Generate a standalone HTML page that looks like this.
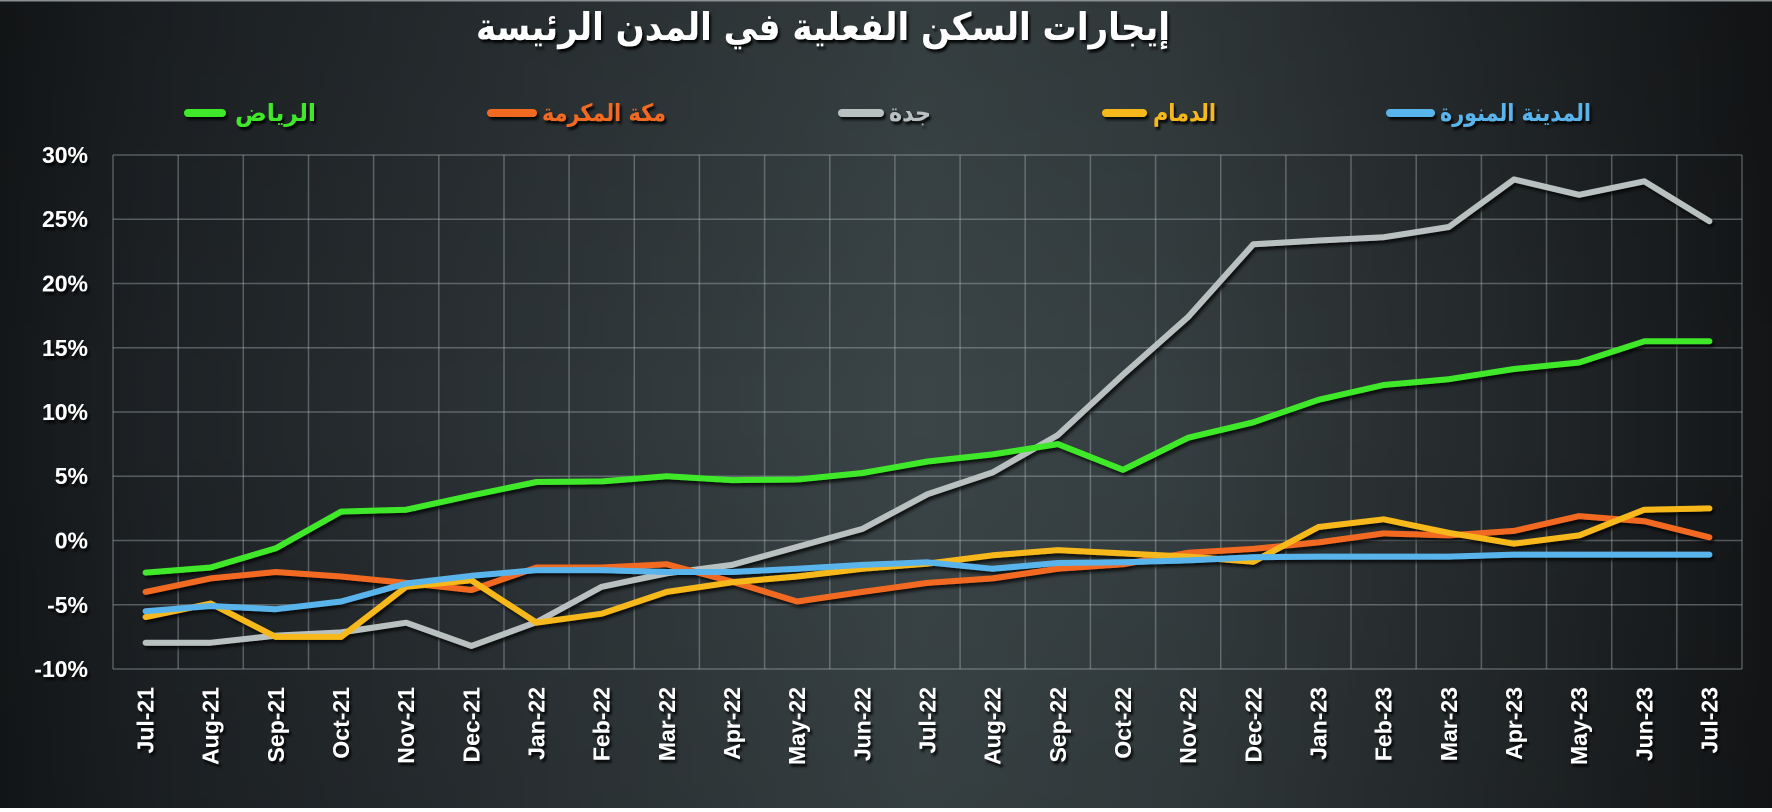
<!DOCTYPE html>
<html><head><meta charset="utf-8">
<style>
html,body{margin:0;padding:0;width:1772px;height:812px;overflow:hidden;background:#fff;}
svg{display:block;}
</style></head>
<body>
<svg width="1772" height="812" viewBox="0 0 1772 812" xmlns="http://www.w3.org/2000/svg">
<defs>
<linearGradient id="bg" x1="0" y1="0" x2="1" y2="0">
<stop offset="0" stop-color="#141719"/>
<stop offset="0.08" stop-color="#1d2124"/>
<stop offset="0.3" stop-color="#2c3336"/>
<stop offset="0.52" stop-color="#3b4547"/>
<stop offset="0.66" stop-color="#353e40"/>
<stop offset="0.84" stop-color="#24292b"/>
<stop offset="1" stop-color="#131517"/>
</linearGradient>
<linearGradient id="vg" x1="0" y1="0" x2="0" y2="1">
<stop offset="0" stop-color="#000" stop-opacity="0.12"/>
<stop offset="0.5" stop-color="#000" stop-opacity="0"/>
<stop offset="1" stop-color="#000" stop-opacity="0.1"/>
</linearGradient>
<filter id="sh" x="-5%" y="-5%" width="110%" height="120%">
<feDropShadow dx="2" dy="3" stdDeviation="1.6" flood-color="#000" flood-opacity="0.75"/>
</filter>
<filter id="lsh" filterUnits="userSpaceOnUse" x="0" y="90" width="1772" height="50">
<feDropShadow dx="2" dy="3" stdDeviation="1.4" flood-color="#000" flood-opacity="0.8"/>
</filter>
<filter id="tsh" x="-5%" y="-30%" width="110%" height="160%">
<feDropShadow dx="2" dy="3" stdDeviation="1.2" flood-color="#000" flood-opacity="0.9"/>
</filter>
</defs>
<rect x="0" y="0" width="1772" height="808" fill="url(#bg)"/>
<rect x="0" y="0" width="1772" height="808" fill="url(#vg)"/>
<rect x="0" y="0" width="1772" height="1.5" fill="#8a8f92"/>
<rect x="0" y="808" width="1772" height="4" fill="#ffffff"/>

<!-- Title -->
<text x="823" y="40" text-anchor="middle" direction="rtl" font-family="'DejaVu Sans', sans-serif" font-weight="bold" font-size="38" fill="#ffffff" filter="url(#tsh)" textLength="694" lengthAdjust="spacingAndGlyphs">إيجارات السكن الفعلية في المدن الرئيسة</text>

<!-- Legend -->
<g filter="url(#lsh)">
<rect x="184" y="109" width="42" height="8" rx="4" fill="#3fe82a"/>
<rect x="487" y="109" width="50" height="8" rx="4" fill="#f26a22"/>
<rect x="838" y="109" width="46" height="8" rx="4" fill="#b8c0c0"/>
<rect x="1102" y="109" width="45" height="8" rx="4" fill="#f7b81a"/>
<rect x="1386" y="109" width="49" height="8" rx="4" fill="#5ab4ec"/>
</g>
<g font-family="'DejaVu Sans', sans-serif" font-weight="bold" font-size="24" text-anchor="middle" direction="rtl" filter="url(#tsh)">
<text x="275.5" y="121" fill="#3fe82a" textLength="81" lengthAdjust="spacingAndGlyphs">الرياض</text>
<text x="604" y="121" fill="#f26a22" textLength="124" lengthAdjust="spacingAndGlyphs">مكة المكرمة</text>
<text x="910" y="121" fill="#b8c0c0" textLength="42" lengthAdjust="spacingAndGlyphs">جدة</text>
<text x="1184.5" y="121" fill="#f7b81a" textLength="63" lengthAdjust="spacingAndGlyphs">الدمام</text>
<text x="1515.5" y="121" fill="#5ab4ec" textLength="151" lengthAdjust="spacingAndGlyphs">المدينة المنورة</text>
</g>

<!-- Grid -->
<g stroke="#a9b3b4" stroke-opacity="0.42" stroke-width="1.5" fill="none">
<line x1="113" y1="155" x2="1742" y2="155"/>
<line x1="113" y1="219.25" x2="1742" y2="219.25"/>
<line x1="113" y1="283.5" x2="1742" y2="283.5"/>
<line x1="113" y1="347.75" x2="1742" y2="347.75"/>
<line x1="113" y1="412" x2="1742" y2="412"/>
<line x1="113" y1="476.25" x2="1742" y2="476.25"/>
<line x1="113" y1="540.5" x2="1742" y2="540.5"/>
<line x1="113" y1="604.75" x2="1742" y2="604.75"/>
<line x1="113" y1="669" x2="1742" y2="669"/>
<line x1="113" y1="155" x2="113" y2="669"/>
<line x1="178.2" y1="155" x2="178.2" y2="669"/>
<line x1="243.3" y1="155" x2="243.3" y2="669"/>
<line x1="308.5" y1="155" x2="308.5" y2="669"/>
<line x1="373.6" y1="155" x2="373.6" y2="669"/>
<line x1="438.8" y1="155" x2="438.8" y2="669"/>
<line x1="504" y1="155" x2="504" y2="669"/>
<line x1="569.1" y1="155" x2="569.1" y2="669"/>
<line x1="634.3" y1="155" x2="634.3" y2="669"/>
<line x1="699.4" y1="155" x2="699.4" y2="669"/>
<line x1="764.6" y1="155" x2="764.6" y2="669"/>
<line x1="829.8" y1="155" x2="829.8" y2="669"/>
<line x1="894.9" y1="155" x2="894.9" y2="669"/>
<line x1="960.1" y1="155" x2="960.1" y2="669"/>
<line x1="1025.2" y1="155" x2="1025.2" y2="669"/>
<line x1="1090.4" y1="155" x2="1090.4" y2="669"/>
<line x1="1155.6" y1="155" x2="1155.6" y2="669"/>
<line x1="1220.7" y1="155" x2="1220.7" y2="669"/>
<line x1="1285.9" y1="155" x2="1285.9" y2="669"/>
<line x1="1351" y1="155" x2="1351" y2="669"/>
<line x1="1416.2" y1="155" x2="1416.2" y2="669"/>
<line x1="1481.4" y1="155" x2="1481.4" y2="669"/>
<line x1="1546.5" y1="155" x2="1546.5" y2="669"/>
<line x1="1611.7" y1="155" x2="1611.7" y2="669"/>
<line x1="1676.8" y1="155" x2="1676.8" y2="669"/>
<line x1="1742" y1="155" x2="1742" y2="669"/>
</g>

<!-- Y labels -->
<g font-family="'Liberation Sans', sans-serif" font-weight="bold" font-size="23" fill="#ffffff" text-anchor="end" filter="url(#tsh)">
<text x="88" y="163">30%</text>
<text x="88" y="227">25%</text>
<text x="88" y="291.5">20%</text>
<text x="88" y="356">15%</text>
<text x="88" y="420">10%</text>
<text x="88" y="484">5%</text>
<text x="88" y="548.5">0%</text>
<text x="88" y="613">-5%</text>
<text x="88" y="677">-10%</text>
</g>

<!-- X labels -->
<g font-family="'Liberation Sans', sans-serif" font-weight="bold" font-size="23" fill="#ffffff" text-anchor="end" filter="url(#tsh)">
<text transform="translate(153.6,687) rotate(-90)">Jul-21</text>
<text transform="translate(218.7,687) rotate(-90)">Aug-21</text>
<text transform="translate(283.9,687) rotate(-90)">Sep-21</text>
<text transform="translate(349.1,687) rotate(-90)">Oct-21</text>
<text transform="translate(414.2,687) rotate(-90)">Nov-21</text>
<text transform="translate(479.4,687) rotate(-90)">Dec-21</text>
<text transform="translate(544.6,687) rotate(-90)">Jan-22</text>
<text transform="translate(609.7,687) rotate(-90)">Feb-22</text>
<text transform="translate(674.9,687) rotate(-90)">Mar-22</text>
<text transform="translate(740,687) rotate(-90)">Apr-22</text>
<text transform="translate(805.2,687) rotate(-90)">May-22</text>
<text transform="translate(870.4,687) rotate(-90)">Jun-22</text>
<text transform="translate(935.5,687) rotate(-90)">Jul-22</text>
<text transform="translate(1000.7,687) rotate(-90)">Aug-22</text>
<text transform="translate(1065.8,687) rotate(-90)">Sep-22</text>
<text transform="translate(1131,687) rotate(-90)">Oct-22</text>
<text transform="translate(1196.2,687) rotate(-90)">Nov-22</text>
<text transform="translate(1261.3,687) rotate(-90)">Dec-22</text>
<text transform="translate(1326.5,687) rotate(-90)">Jan-23</text>
<text transform="translate(1391.7,687) rotate(-90)">Feb-23</text>
<text transform="translate(1456.8,687) rotate(-90)">Mar-23</text>
<text transform="translate(1522,687) rotate(-90)">Apr-23</text>
<text transform="translate(1587.1,687) rotate(-90)">May-23</text>
<text transform="translate(1652.3,687) rotate(-90)">Jun-23</text>
<text transform="translate(1717.4,687) rotate(-90)">Jul-23</text>
</g>

<!-- Series -->
<g fill="none" stroke-width="6" stroke-linejoin="round" stroke-linecap="round" filter="url(#sh)">
<polyline stroke="#b8c0c0" points="145.6,642.7 210.7,642.7 275.9,635.6 341.1,632.4 406.2,622.7 471.4,645.9 536.6,622.1 601.7,586.8 666.9,573.3 732,564.9 797.2,546.9 862.4,528.9 927.5,494.2 992.7,472.4 1057.8,435.1 1123,374.7 1188.2,316.9 1253.3,244.3 1318.5,240.5 1383.7,237.2 1448.8,227 1514,179.4 1579.1,194.8 1644.3,181.3 1709.4,221.2"/>
<polyline stroke="#3fe82a" points="145.6,572.6 210.7,567.5 275.9,548.2 341.1,511.6 406.2,509.7 471.4,495.5 536.6,482 601.7,481.4 666.9,476.3 732,480.1 797.2,479.5 862.4,473 927.5,461.5 992.7,454.4 1057.8,444.1 1123,469.8 1188.2,437.7 1253.3,422.3 1318.5,399.8 1383.7,385 1448.8,379.2 1514,369 1579.1,362.5 1644.3,341.3 1709.4,341.3"/>
<polyline stroke="#f26a22" points="145.6,591.9 210.7,578.4 275.9,572 341.1,576.5 406.2,582.9 471.4,590 536.6,567.5 601.7,567.5 666.9,564.3 732,581.6 797.2,601.5 862.4,591.9 927.5,582.9 992.7,578.4 1057.8,568.8 1123,564.3 1188.2,552.7 1253.3,548.9 1318.5,542.4 1383.7,533.4 1448.8,535.4 1514,530.9 1579.1,516.1 1644.3,521.2 1709.4,537.3"/>
<polyline stroke="#f7b81a" points="145.6,617 210.7,603.5 275.9,636.9 341.1,636.9 406.2,586.8 471.4,580.3 536.6,622.7 601.7,613.7 666.9,591.9 732,582.3 797.2,576.5 862.4,568.8 927.5,563.6 992.7,555.3 1057.8,550.1 1123,553.4 1188.2,556.6 1253.3,561.7 1318.5,527 1383.7,519.3 1448.8,532.8 1514,543.7 1579.1,535.4 1644.3,509.7 1709.4,508.4"/>
<polyline stroke="#5ab4ec" points="145.6,611.2 210.7,606 275.9,609.2 341.1,601.5 406.2,583.5 471.4,575.8 536.6,570.1 601.7,570.1 666.9,572 732,572 797.2,568.8 862.4,564.9 927.5,562.3 992.7,568.8 1057.8,563 1123,562.3 1188.2,560.4 1253.3,557.2 1318.5,556.6 1383.7,556.6 1448.8,556.6 1514,554.6 1579.1,554.6 1644.3,554.6 1709.4,554.6"/>
</g>
</svg>
</body></html>
